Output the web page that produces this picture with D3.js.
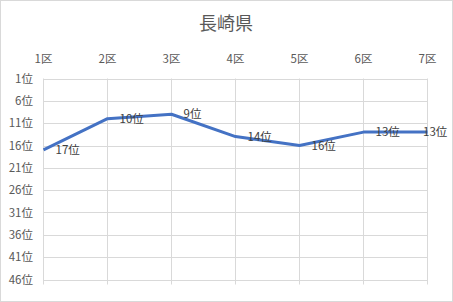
<!DOCTYPE html>
<html>
<head>
<meta charset="utf-8">
<script src="https://cdn.jsdelivr.net/npm/d3@7"></script>
<style>
  body { margin: 0; background: #fff; }
  svg text { font-family: "Noto Sans CJK JP", "Noto Sans", sans-serif; }
</style>
</head>
<body>
<div id="chart"></div>
<script>
// data
var title = "長崎県";
var districts = ["1区", "2区", "3区", "4区", "5区", "6区", "7区"];
var ranks = [17, 10, 9, 14, 16, 13, 13];
var rankTicks = [1, 6, 11, 16, 21, 26, 31, 36, 41, 46];

var svgWidth = 453;
var svgHeight = 302;

var svg = d3.select("#chart")
  .append("svg")
  .attr("width", svgWidth)
  .attr("height", svgHeight);

// outer border
svg.append("rect")
  .attr("x", 0.5)
  .attr("y", 0.5)
  .attr("width", svgWidth - 1)
  .attr("height", svgHeight - 1)
  .attr("fill", "#fff")
  .attr("stroke", "#d9d9d9");

var xScale = d3.scalePoint()
  .domain(districts)
  .range([43.5, 427.5]);

var yScale = d3.scaleLinear()
  .domain([1, 46])
  .range([78.5, 279.5]);

// title
svg.append("text")
  .attr("x", 226)
  .attr("y", 24)
  .attr("dy", "0.35em")
  .attr("text-anchor", "middle")
  .attr("font-size", "18px")
  .attr("fill", "#595959")
  .text(title);

// horizontal gridlines
svg.selectAll(".hgrid")
  .data(rankTicks)
  .enter()
  .append("line")
  .attr("x1", xScale.range()[0])
  .attr("x2", xScale.range()[1])
  .attr("y1", d => Math.round(yScale(d)) + 0.5)
  .attr("y2", d => Math.round(yScale(d)) + 0.5)
  .attr("stroke", "#d9d9d9");

// vertical gridlines (with tick below)
svg.selectAll(".vgrid")
  .data(districts)
  .enter()
  .append("line")
  .attr("x1", d => xScale(d))
  .attr("x2", d => xScale(d))
  .attr("y1", yScale(1))
  .attr("y2", yScale(46) + 5)
  .attr("stroke", "#d9d9d9");

// y labels
svg.selectAll(".ylab")
  .data(rankTicks)
  .enter()
  .append("text")
  .attr("x", 33)
  .attr("y", d => yScale(d))
  .attr("dy", "0.35em")
  .attr("text-anchor", "end")
  .attr("font-size", "11.5px")
  .attr("fill", "#595959")
  .text(d => d + "位");

// x labels (top)
svg.selectAll(".xlab")
  .data(districts)
  .enter()
  .append("text")
  .attr("x", d => xScale(d))
  .attr("y", 59)
  .attr("dy", "0.35em")
  .attr("text-anchor", "middle")
  .attr("font-size", "11.5px")
  .attr("fill", "#595959")
  .text(d => d);

// line
var line = d3.line()
  .x((d, i) => xScale(districts[i]))
  .y(d => yScale(d));

svg.append("path")
  .datum(ranks)
  .attr("d", line)
  .attr("fill", "none")
  .attr("stroke", "#4472c4")
  .attr("stroke-width", 3)
  .attr("stroke-linejoin", "round");

// data labels
svg.selectAll(".dlab")
  .data(ranks)
  .enter()
  .append("text")
  .attr("x", (d, i) => Math.min(xScale(districts[i]) + 12, 423))
  .attr("y", d => yScale(d))
  .attr("dy", "0.35em")
  .attr("font-size", "11.5px")
  .attr("fill", "#404040")
  .text(d => d + "位");
</script>
</body>
</html>
